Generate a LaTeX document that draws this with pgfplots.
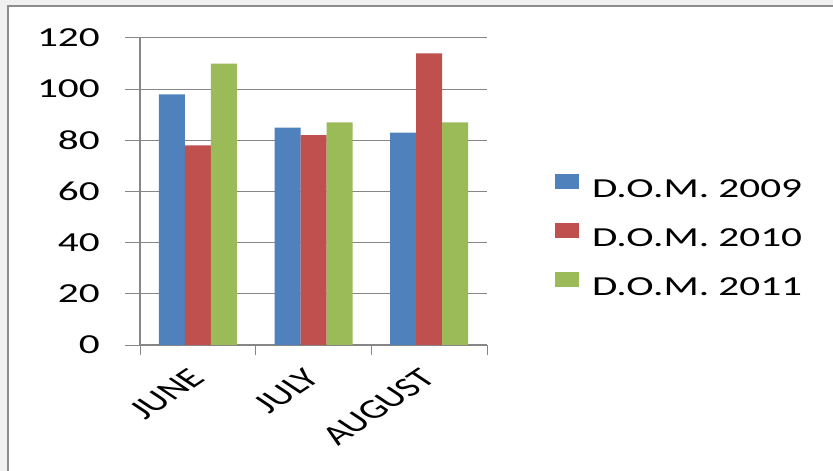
\documentclass[border=0pt]{standalone}
\usepackage{fontspec}
\setmainfont{Carlito}[FakeStretch=1.5]
\newfontfamily\plainfont{Carlito}
\usepackage{pgfplots}
\pgfplotsset{compat=1.18}
\definecolor{bggray}{HTML}{F0F0F0}
\definecolor{framegray}{HTML}{8C8C8C}
\definecolor{axisgray}{HTML}{868686}
\definecolor{cblue}{HTML}{4F81BD}
\definecolor{cred}{HTML}{C0504D}
\definecolor{cgreen}{HTML}{9BBB59}
\newcommand{\xl}[1]{\scalebox{1.5}[1]{\rotatebox{45}{\plainfont\fontsize{27.5bp}{32bp}\selectfont #1}}}
\begin{document}
\begin{tikzpicture}
\useasboundingbox (0,0) rectangle (833bp,471bp);
\fill[bggray] (0,0) rectangle (833bp,471bp);
\filldraw[fill=white, draw=framegray, line width=2bp] (8bp,-20bp) rectangle (860bp,465bp);
\begin{axis}[
  at={(140bp,126bp)}, anchor=south west,
  scale only axis, width=347bp, height=307bp,
  xmin=-0.5, xmax=2.5, ymin=0, ymax=120,
  ytick={0,20,...,120},
  xtick={0,1,2},
  xticklabels={\xl{JUNE},\xl{JULY},\xl{AUGUST}},
  minor xtick={-0.5,0.5,1.5,2.5},
  every major x tick/.append style={draw=none},
  axis x line*=bottom, axis y line*=left,
  axis line style={-, draw=axisgray, line width=1.2bp},
  ymajorgrids,
  grid style={draw=axisgray, line width=1bp},
  tick style={draw=axisgray, line width=1bp},
  tick align=outside,
  major tick length=15bp, minor tick length=10bp,
  /pgf/number format/assume math mode=true,
  ticklabel style={font=\fontsize{27.5bp}{32bp}\selectfont, text=black},
  yticklabel style={anchor=east, inner sep=0pt, xshift=-25bp},
  xticklabel style={anchor=north east, inner sep=0pt, xshift=9bp, yshift=-7bp},
  ybar=0pt, bar width=26bp,
  legend image code/.code={\fill[#1] (0bp,0bp) rectangle (24bp,15bp);},
  legend cell align=left,
  legend style={at={(1.196,0.557)}, anchor=north west, draw=none, fill=none,
    inner sep=0pt, outer sep=0pt, column sep=13bp, row sep=25bp,
    font=\fontsize{27.5bp}{32bp}\selectfont,
    nodes={inner sep=0pt, text height=18bp, text depth=0bp}},
]
\addplot[fill=cblue, draw=none] coordinates {(0,98) (1,85) (2,83)};
\addplot[fill=cred, draw=none] coordinates {(0,78) (1,82) (2,114)};
\addplot[fill=cgreen, draw=none] coordinates {(0,110) (1,87) (2,87)};
\legend{D.O.M. 2009, D.O.M. 2010, D.O.M. 2011}
\end{axis}
\end{tikzpicture}
\end{document}
